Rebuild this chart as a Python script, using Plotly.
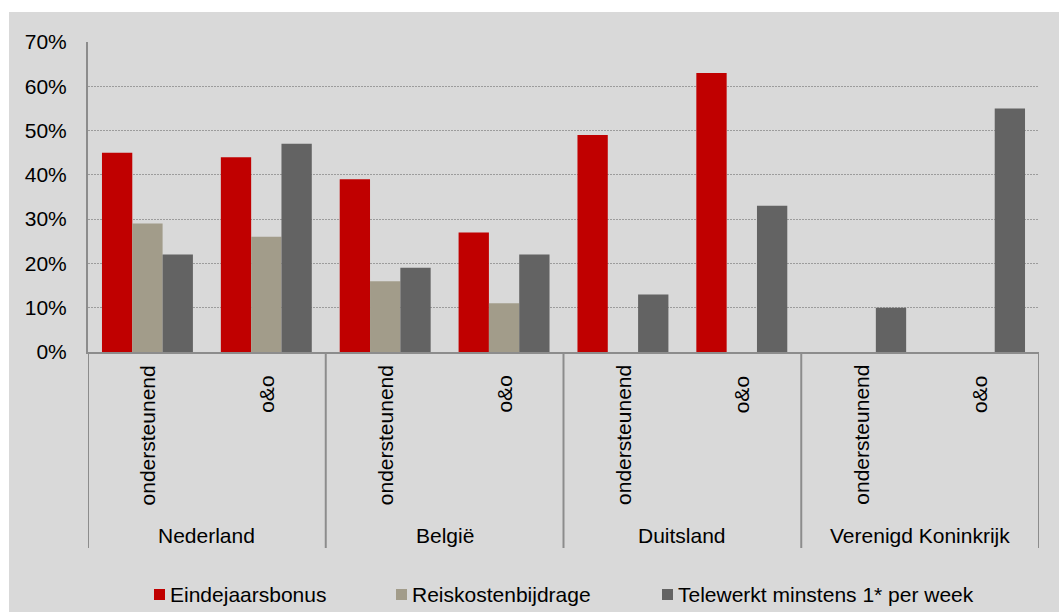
import plotly.graph_objects as go

# --- data -------------------------------------------------------------
countries = ["Nederland", "België", "Duitsland", "Verenigd Koninkrijk"]
functions = ["ondersteunend", "o&o"]
series_names = ["Eindejaarsbonus", "Reiskostenbijdrage", "Telewerkt minstens 1* per week"]
eindejaarsbonus = [45, 44, 39, 27, 49, 63, None, None]
reiskostenbijdrage = [29, 26, 16, 11, None, None, None, None]
telewerken = [22, 47, 19, 22, 13, 33, 10, 55]
y_ticks = [0, 10, 20, 30, 40, 50, 60, 70]
y_tick_labels = ["0%", "10%", "20%", "30%", "40%", "50%", "60%", "70%"]

# --- styling / layout constants ---------------------------------------
colors = ["#C00000", "#A29C8A", "#636363"]
FONT = "Liberation Sans, Arial, sans-serif"
FS = 21
W, H = 1059, 612
L, R, T, B = 88, 1039, 42, 352          # plot area in pixels
AXIS_GREY = "#8c8c8c"
GRID_GREY = "#9c9c9c"
PANEL_GREY = "#d9d9d9"

def xp(px):
    return (px - L) / (R - L)

def yp(py):
    return (B - py) / (B - T)

# one category per (country, function) pair
cats = [f"{c} | {f}" for c in countries for f in functions]
values = [eindejaarsbonus, reiskostenbijdrage, telewerken]

fig = go.Figure()
for name, vals, col in zip(series_names, values, colors):
    fig.add_trace(go.Bar(
        x=cats, y=vals, name=name, marker=dict(color=col, line=dict(width=0)),
        showlegend=False,
    ))

shapes = [
    # grey chart panel behind everything
    dict(type="rect", xref="paper", yref="paper", x0=xp(9), x1=xp(W + 10),
         y0=yp(H + 10), y1=yp(12), fillcolor=PANEL_GREY, line=dict(width=0),
         layer="below"),
]
# separators between country groups in the category band
for k in range(len(countries) + 1):
    xpos = k * len(functions) - 0.5
    shapes.append(dict(type="line", xref="x", yref="paper", x0=xpos, x1=xpos,
                       y0=0, y1=yp(548), line=dict(color=AXIS_GREY, width=2)))

annotations = []
# inner (function) labels, rotated
label_top = {"ondersteunend": 366, "o&o": 377}
for i, cat in enumerate(cats):
    func = functions[i % len(functions)]
    annotations.append(dict(
        x=i, xref="x", y=yp(label_top[func] - 3), yref="paper", text=func,
        textangle=-90, xanchor="center", yanchor="top", showarrow=False,
        font=dict(family=FONT, size=FS, color="#000000"),
    ))
# outer (country) labels
for k, c in enumerate(countries):
    annotations.append(dict(
        x=k * len(functions) + 0.5, xref="x", y=yp(535), yref="paper", text=c,
        xanchor="center", yanchor="middle", showarrow=False,
        font=dict(family=FONT, size=FS, color="#000000"),
    ))

# legend drawn as swatches + labels
legend_x = [154, 396, 662]
legend_y = 594.5
for name, col, lx in zip(series_names, colors, legend_x):
    shapes.append(dict(type="rect", xref="paper", yref="paper",
                       x0=xp(lx), x1=xp(lx + 11), y0=yp(legend_y + 5.5), y1=yp(legend_y - 5.5),
                       fillcolor=col, line=dict(width=0)))
    annotations.append(dict(
        x=xp(lx + 14), xref="paper", y=yp(legend_y), yref="paper", text=name,
        xanchor="left", yanchor="middle", showarrow=False,
        font=dict(family=FONT, size=FS, color="#000000"),
    ))

fig.update_layout(
    width=W, height=H,
    margin=dict(l=L, r=W - R, t=T, b=H - B, pad=0),
    paper_bgcolor="#ffffff", plot_bgcolor="#ffffff",
    barmode="group", bargap=0.235, bargroupgap=0,
    font=dict(family=FONT, size=FS, color="#000000"),
    shapes=shapes, annotations=annotations,
    showlegend=False,
)
fig.update_xaxes(
    type="category", showticklabels=False, ticks="", showgrid=False,
    showline=True, linecolor=AXIS_GREY, linewidth=2, range=[-0.5, len(cats) - 0.5],
)
fig.update_yaxes(
    range=[0, 70], tickmode="array", tickvals=y_ticks, ticktext=y_tick_labels,
    showgrid=True, gridcolor=GRID_GREY, gridwidth=1, griddash="2px,1px",
    showline=True, linecolor=AXIS_GREY, linewidth=2, zeroline=False,
    ticks="", ticklabelstandoff=15,
    tickfont=dict(family=FONT, size=FS, color="#000000"),
)

fig.write_html("out.html")
